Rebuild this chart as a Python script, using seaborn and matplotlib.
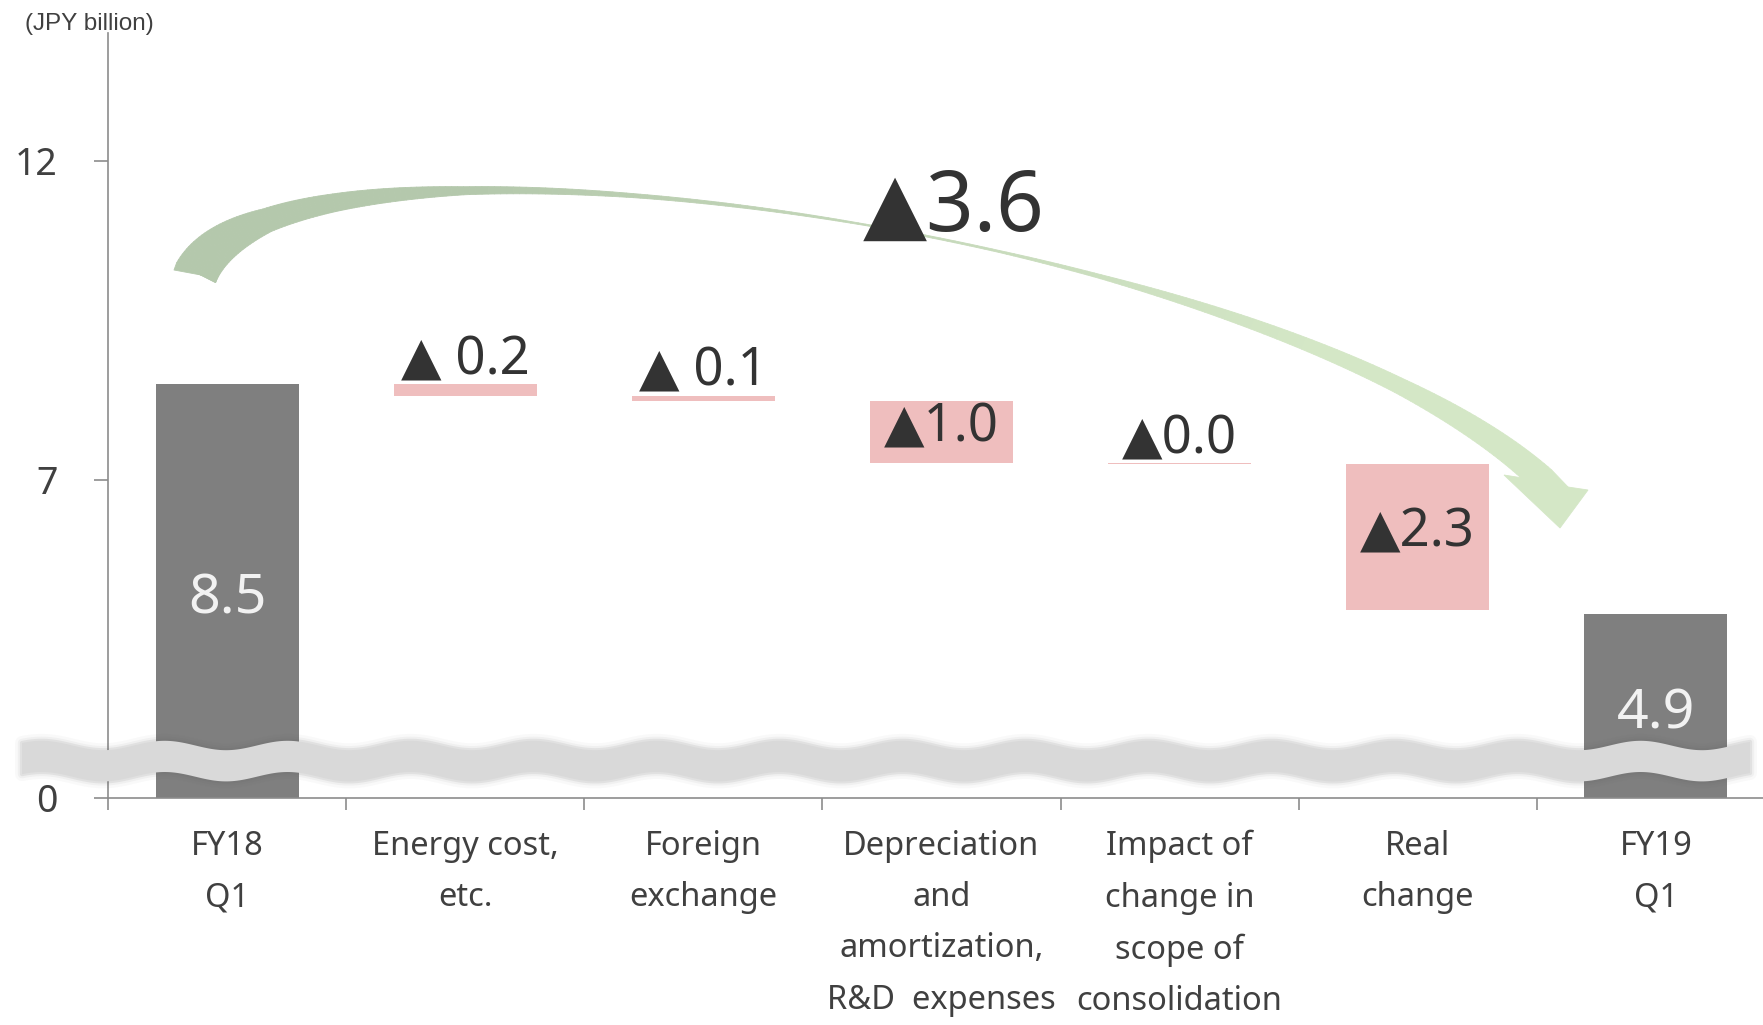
import numpy as np
import pandas as pd
import matplotlib
matplotlib.use('Agg')
import matplotlib.pyplot as plt
import seaborn as sns
from matplotlib.patches import Polygon
from matplotlib.collections import PolyCollection

# =========================
# DATA
# =========================
categories = ['FY18\nQ1', 'Energy cost,\netc.', 'Foreign\nexchange',
              'Depreciation\nand\namortization,\nR&D  expenses',
              'Impact of\nchange in\nscope of\nconsolidation',
              'Real\nchange', 'FY19\nQ1']
start_value = 8.5
end_value = 4.9
changes = [-0.18, -0.09, -0.96, -0.02, -2.28]
change_labels = ['▲ 0.2', '▲ 0.1', '▲1.0', '▲0.0', '▲2.3']
total_change_label = '▲3.6'
value_labels = ['8.5', '4.9']
y_ticks = [7, 12]
y_tick_labels = ['0', '7', '12']

# waterfall geometry
heights = [start_value]
bottoms = [0.0]
running = start_value
for c in changes:
    running = running + c
    heights.append(-c)
    bottoms.append(running)
heights.append(end_value)
bottoms.append(0.0)

df = pd.DataFrame({'item': categories, 'height': heights, 'bottom': bottoms})

TOTAL_COLOR = '#7f7f7f'
CHANGE_COLOR = '#efbebe'
TEXT_COLOR = '#404040'
AXIS_COLOR = '#8c8c8c'
bar_colors = [TOTAL_COLOR] + [CHANGE_COLOR] * len(changes) + [TOTAL_COLOR]

# =========================
# FIGURE
# =========================
sns.set_theme(style='white')
plt.rcParams['font.family'] = ['Noto Sans', 'DejaVu Sans']

W, H = 1763, 1025
fig = plt.figure(figsize=(W / 100, H / 100), dpi=100)
ax = fig.add_axes([108 / W, (H - 798) / H, (W - 108) / W, (798 - 33) / H])

sns.barplot(data=df, x='item', y='height', bottom=df['bottom'].values,
            width=0.6, color=TOTAL_COLOR, linewidth=0, ax=ax, zorder=2)
for patch, col in zip(ax.patches, bar_colors):
    patch.set_facecolor(col)

Y_BOTTOM = 2.02  # broken axis: "0" sits at the bottom of the visible range
ax.set_xlim(-0.5, 6.45)
ax.set_ylim(Y_BOTTOM, 14.0)
ax.set_xlabel('')
ax.set_ylabel('')

sns.despine(ax=ax)
for side in ['left', 'bottom']:
    ax.spines[side].set_color(AXIS_COLOR)
    ax.spines[side].set_linewidth(1.2)

ax.set_yticks([Y_BOTTOM] + y_ticks, y_tick_labels)
ax.tick_params(axis='y', left=True, length=10, width=1.2, color=AXIS_COLOR,
               pad=26, labelsize=27, labelcolor=TEXT_COLOR)

ax.set_xticks(range(len(categories)))
ax.set_xticklabels(categories, fontsize=23.5, color=TEXT_COLOR, linespacing=1.73)
ax.tick_params(axis='x', which='major', length=0, pad=23)
ax.set_xticks(np.arange(-0.5, len(categories) - 1, 1), minor=True)
ax.tick_params(axis='x', which='minor', bottom=True, length=8.6, width=1.2,
               color=AXIS_COLOR)

# change labels
for i, lab in enumerate(change_labels):
    x = i + 1
    bot = bottoms[x]
    top = bot + heights[x]
    if heights[x] >= 0.5:
        ax.annotate(lab, (x, (top + bot) / 2), xytext=(0, 3), textcoords='offset points',
                    ha='center', va='center', fontsize=38, color='#333333', zorder=8)
    else:
        ax.annotate(lab, (x, top), xytext=(0, 7), textcoords='offset points',
                    ha='center', va='baseline', fontsize=38, color='#333333', zorder=8)

# total bar labels
for x, lab, val in [(0, value_labels[0], start_value), (6, value_labels[1], end_value)]:
    ax.annotate(lab, (x, (val + Y_BOTTOM) / 2), xytext=(0, -6), textcoords='offset points',
                ha='center', va='center', fontsize=40, color='#f2f2f2', zorder=4)

ax.text(3.05, 11.25, total_change_label, ha='center', va='center',
        fontsize=60, color='#333333', zorder=8)

fig.text(25 / W, 1 - 24 / H, '(JPY billion)', family='Liberation Sans',
         fontsize=17.5, color=TEXT_COLOR, ha='left', va='center')


# =========================
# DECORATION (pixel space -> data space)
# =========================
def px2data(pts):
    pts = np.asarray(pts, float)
    disp = np.column_stack([pts[:, 0], H - pts[:, 1]])
    return ax.transData.inverted().transform(disp)


# broken-axis wave band
bx = np.linspace(22, 1750, 700)
phase = 2 * np.pi * (bx - 656.6) / 123
top_y = 745.5 - 4.7 * np.cos(phase)
bot_y = 776.7 - 4.7 * np.cos(phase)
band = np.vstack([np.column_stack([bx, top_y]),
                  np.column_stack([bx[::-1], bot_y[::-1]])])
band_d = px2data(band)
for lw, a in [(10, 0.035), (6, 0.06), (3, 0.1)]:
    ax.add_patch(Polygon(band_d, closed=True, facecolor='none', edgecolor='#606060',
                         lw=lw, alpha=a, clip_on=False, zorder=5, joinstyle='round'))
ax.add_patch(Polygon(band_d, closed=True, facecolor='#d9d9d9', edgecolor='none',
                     clip_on=False, zorder=5.1))

# curved green arrow
t = np.linspace(0, 1, 240)
P = np.array([[195, 275], [280, 90], [1280, 230], [1546, 483]], float)
B = (((1 - t) ** 3)[:, None] * P[0] + (3 * (1 - t) ** 2 * t)[:, None] * P[1]
     + (3 * (1 - t) * t ** 2)[:, None] * P[2] + (t ** 3)[:, None] * P[3])
dB = ((3 * (1 - t) ** 2)[:, None] * (P[1] - P[0]) + (6 * (1 - t) * t)[:, None] * (P[2] - P[1])
      + (3 * t ** 2)[:, None] * (P[3] - P[2]))
tang = dB / np.linalg.norm(dB, axis=1)[:, None]
nrm = np.column_stack([tang[:, 1], -tang[:, 0]])
wid = np.interp(B[:, 0], [195, 267, 333, 400, 465, 635, 865, 1000, 1100, 1240, 1400, 1546],
                [44, 24, 18, 13, 8, 4, 1.5, 2, 4, 10, 16, 27])
outer = B + nrm * wid[:, None] / 2
inner = B - nrm * wid[:, None] / 2
outer[0], inner[0] = (174, 270), (217, 278)
outer[-1], inner[-1] = (1568, 487), (1523, 478)
outer_d, inner_d = px2data(outer), px2data(inner)

c0 = np.array([180, 200, 172]) / 255
c1 = np.array([212, 231, 198]) / 255
quads, cols = [], []
for i in range(len(t) - 1):
    quads.append([outer_d[i], outer_d[i + 1], inner_d[i + 1], inner_d[i]])
    f = np.clip((t[i] - 0.3) / 0.5, 0, 1)
    cols.append(tuple(c0 + (c1 - c0) * f))
ax.add_collection(PolyCollection(quads, facecolors=cols, edgecolors=cols,
                                 linewidths=0.6, zorder=3, clip_on=False))
head = px2data([(1523, 478), (1504, 475), (1560, 528), (1588, 490), (1568, 487)])
ax.add_patch(Polygon(head, closed=True, facecolor=tuple(c1), edgecolor=tuple(c1),
                     lw=0.6, zorder=3, clip_on=False))

fig.savefig('out.png', dpi=100)
